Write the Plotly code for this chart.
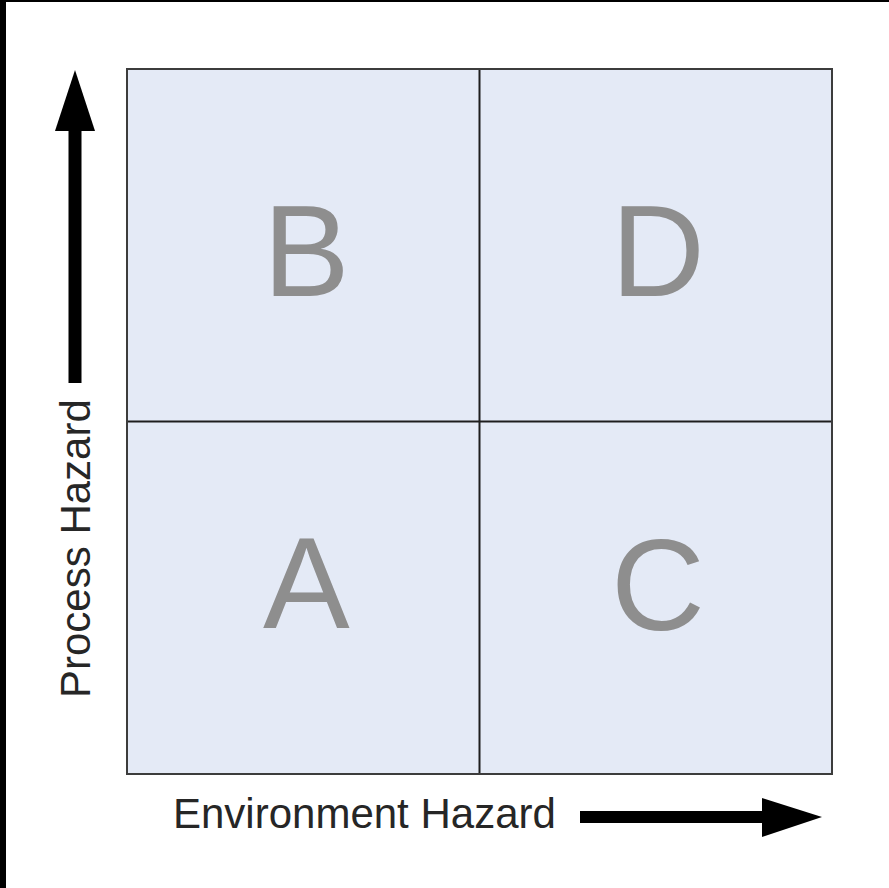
import plotly.graph_objects as go

# ---- data ----
x_levels = [0.5, 1.5]          # Environment Hazard: low, high
y_levels = [0.5, 1.5]          # Process Hazard: low, high
z_values = [[1, 1], [1, 1]]    # uniform quadrant fill
quad_x = [0.5, 0.5, 1.5, 1.5]
quad_y = [0.5, 1.5, 0.5, 1.5]
quad_labels = ["A", "B", "C", "D"]
x_title = "Environment Hazard"
y_title = "Process Hazard"

W, H = 889, 888
def px(x): return x / W
def py(y): return 1 - y / H

fig = go.Figure()
fig.add_trace(go.Heatmap(
    x=x_levels, y=y_levels, z=z_values,
    colorscale=[[0, "#E4EAF6"], [1, "#E4EAF6"]],
    showscale=False, hoverinfo="skip"))

yshifts = {"A": 14, "B": -5, "C": 12, "D": -5}
for xv, yv, lab in zip(quad_x, quad_y, quad_labels):
    fig.add_annotation(x=xv, y=yv, xref="x", yref="y", text=lab, showarrow=False,
                       font=dict(family="Liberation Sans, Arial", size=130, color="#8E8E8E"),
                       yshift=yshifts[lab], xshift=3)

fig.add_annotation(x=px(364), y=py(813), xref="paper", yref="paper", text=x_title,
                   showarrow=False, xanchor="center", yanchor="middle",
                   font=dict(family="Liberation Sans, Arial", size=42, color="#262626"))
fig.add_annotation(x=px(75), y=py(549), xref="paper", yref="paper", text=y_title,
                   showarrow=False, xanchor="center", yanchor="middle", textangle=-90,
                   font=dict(family="Liberation Sans, Arial", size=42, color="#262626"))

x_mid = (x_levels[0] + x_levels[1]) / 2
y_mid = (y_levels[0] + y_levels[1]) / 2

shapes = []
# quadrant dividers
shapes.append(dict(type="line", xref="x", yref="y domain", x0=x_mid, x1=x_mid, y0=0, y1=1,
                   line=dict(color="#1E1E1E", width=2)))
shapes.append(dict(type="line", xref="x domain", yref="y", x0=0, x1=1, y0=y_mid, y1=y_mid,
                   line=dict(color="#1E1E1E", width=2)))
# frame edges
shapes.append(dict(type="rect", xref="paper", yref="paper", x0=0, x1=px(6), y0=0, y1=1,
                   fillcolor="black", line=dict(width=0)))
shapes.append(dict(type="rect", xref="paper", yref="paper", x0=0, x1=1, y0=py(2), y1=1,
                   fillcolor="black", line=dict(width=0)))
# vertical arrow
shapes.append(dict(type="line", xref="paper", yref="paper", x0=px(75), x1=px(75),
                   y0=py(383), y1=py(128), line=dict(color="black", width=13)))
shapes.append(dict(type="path", xref="paper", yref="paper",
                   path=f"M {px(55)},{py(131)} L {px(95)},{py(131)} L {px(75)},{py(70)} Z",
                   fillcolor="black", line=dict(width=0)))
# horizontal arrow
shapes.append(dict(type="line", xref="paper", yref="paper", x0=px(580), x1=px(765),
                   y0=py(817), y1=py(817), line=dict(color="black", width=12)))
shapes.append(dict(type="path", xref="paper", yref="paper",
                   path=f"M {px(762)},{py(798)} L {px(762)},{py(837)} L {px(822)},{py(817)} Z",
                   fillcolor="black", line=dict(width=0)))
fig.update_layout(shapes=shapes)

fig.update_xaxes(domain=[px(128), px(831)], range=[0, 2], showticklabels=False, ticks="",
                 showgrid=False, zeroline=False,
                 showline=True, linecolor="#3C3C3C", linewidth=2, mirror=True)
fig.update_yaxes(domain=[py(773), py(70)], range=[0, 2], showticklabels=False, ticks="",
                 showgrid=False, zeroline=False,
                 showline=True, linecolor="#3C3C3C", linewidth=2, mirror=True)

fig.update_layout(width=W, height=H, margin=dict(l=0, r=0, t=0, b=0),
                  paper_bgcolor="white", plot_bgcolor="#E4EAF6", showlegend=False)

fig.write_html("out.html", config={"displayModeBar": False},
               post_script="document.body.style.margin='0';document.body.style.padding='0';"
                           "document.body.style.overflow='hidden';")
